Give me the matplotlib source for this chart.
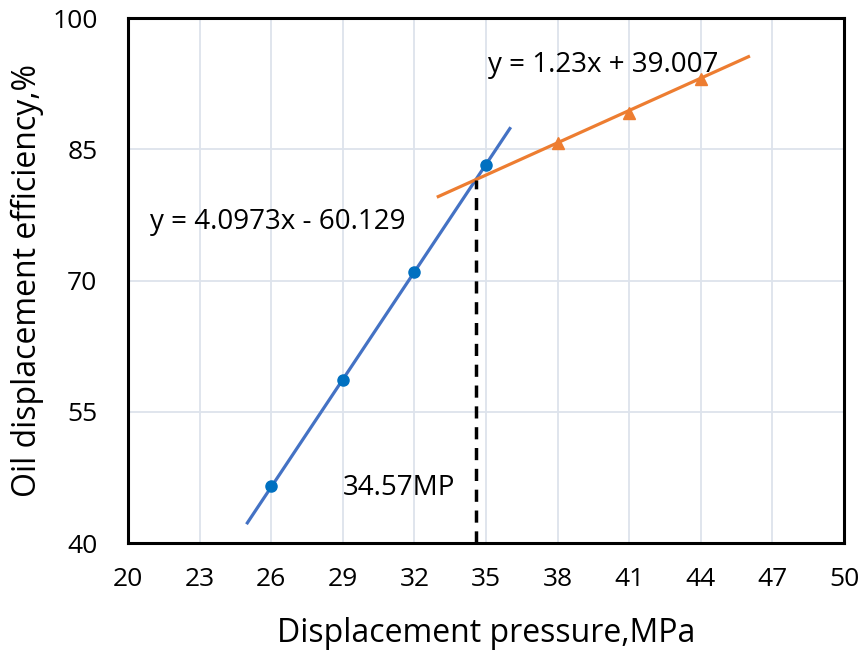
import matplotlib
matplotlib.use('Agg')
import matplotlib.pyplot as plt
import numpy as np

plt.rcParams['font.family'] = ['Open Sans', 'DejaVu Sans']

# measured points
x_low = [26, 29, 32, 35]
y_low = [46.5, 58.6, 71.0, 83.2]
x_high = [38, 41, 44]
y_high = [85.7, 89.2, 93.0]

# linear fits as printed on the chart
k1, b1 = 4.0973, -60.129
k2, b2 = 1.23, 39.007
fit1_range = [25, 36]
fit2_range = [33, 46]
x_break = 34.57

xticks = [20, 23, 26, 29, 32, 35, 38, 41, 44, 47, 50]
yticks = [40, 55, 70, 85, 100]

fig = plt.figure(figsize=(8.61, 6.57), dpi=100)
ax = fig.add_axes([0.1487, 0.1735, 0.8315, 0.799])

ax.grid(True, color='#dde3ec', linewidth=1.3, zorder=0)
ax.set_axisbelow(True)

fx1 = np.array(fit1_range)
fx2 = np.array(fit2_range)
ax.plot(fx1, k1 * fx1 + b1, color='#4472C4', linewidth=2.3, zorder=2)
ax.plot(fx2, k2 * fx2 + b2, color='#ED7D31', linewidth=2.3, zorder=2)
ax.plot(x_low, y_low, 'o', color='#0070C0', markersize=8, zorder=3)
ax.plot(x_high, y_high, '^', color='#ED7D31', markersize=8, zorder=3)

# break point
y_break = k1 * x_break + b1
ax.plot([x_break, x_break], [40, y_break], color='black', linestyle=(0, (3.5, 2.5)),
        linewidth=2.5, zorder=4)

ax.text(35.08, 94.6, 'y = 1.23x + 39.007', fontsize=20, va='center', ha='left')
ax.text(20.92, 76.7, 'y = 4.0973x - 60.129', fontsize=20, va='center', ha='left')
ax.text(29.0, 46.3, '34.57MP', fontsize=20, va='center', ha='left')

ax.set_xlim(20, 50)
ax.set_ylim(40, 100)
ax.set_xticks(xticks)
ax.set_yticks(yticks)
ax.tick_params(axis='both', length=0, labelsize=19)
ax.tick_params(axis='x', pad=17)
ax.tick_params(axis='y', pad=22)
for s in ax.spines.values():
    s.set_linewidth(2.2)
    s.set_color('black')

ax.set_xlabel('Displacement pressure,MPa', fontsize=23, labelpad=18)
ax.set_ylabel('Oil displacement efficiency,%', fontsize=23, labelpad=6)

fig.savefig('out.png', dpi=100)
